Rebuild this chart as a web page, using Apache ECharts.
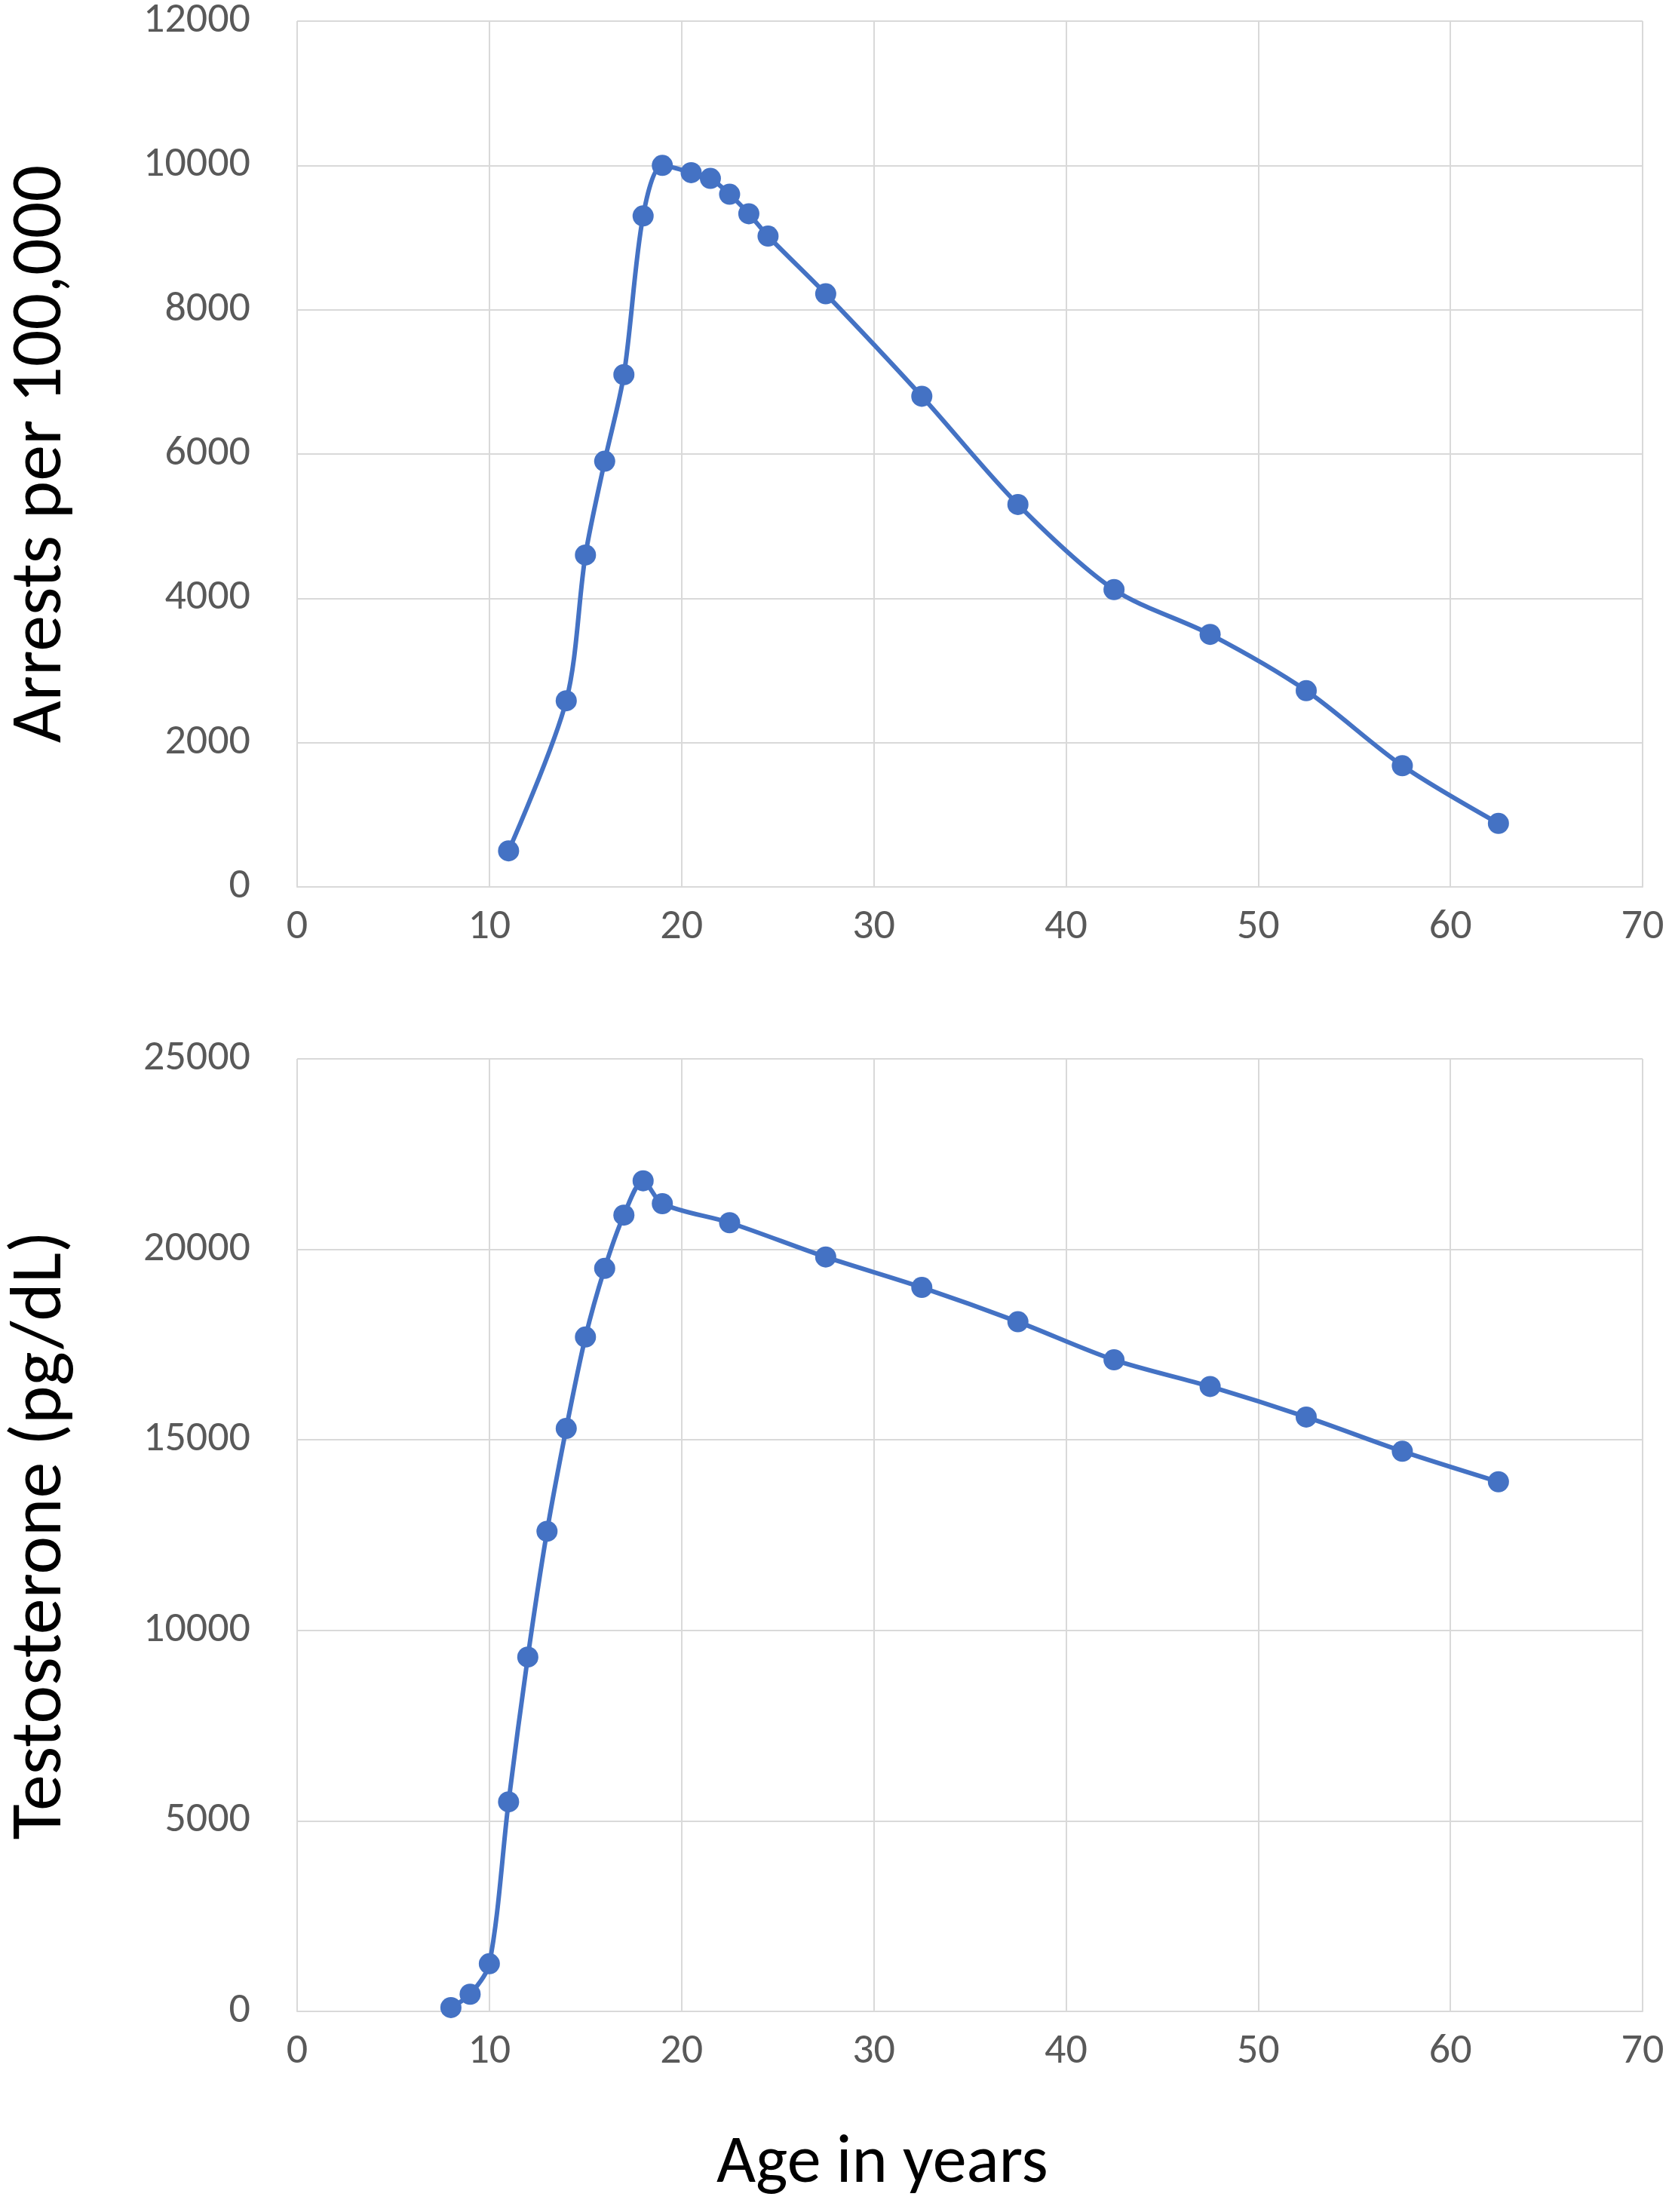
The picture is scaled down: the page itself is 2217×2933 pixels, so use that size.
<!DOCTYPE html>
<html><head><meta charset="utf-8">
<script src="https://cdn.jsdelivr.net/npm/echarts@6/dist/echarts.min.js"></script>
<style>html,body{margin:0;background:#fff}#main{width:2217px;height:2933px}</style>
</head><body><div id="main"></div>
<script>
// top panel: arrests
var arrestAge = [11, 14, 15, 16, 17, 18, 19, 20.5, 21.5, 22.5, 23.5, 24.5, 27.5, 32.5, 37.5, 42.5, 47.5, 52.5, 57.5, 62.5];
var arrestVal = [500, 2580, 4600, 5900, 7100, 9300, 10000, 9900, 9820, 9600, 9330, 9020, 8220, 6800, 5300, 4120, 3500, 2720, 1680, 880];
// bottom panel: testosterone
var testoAge = [8, 9, 10, 11, 12, 13, 14, 15, 16, 17, 18, 19, 22.5, 27.5, 32.5, 37.5, 42.5, 47.5, 52.5, 57.5, 62.5];
var testoVal = [100, 450, 1250, 5500, 9300, 12600, 15300, 17700, 19500, 20900, 21800, 21200, 20700, 19800, 19000, 18100, 17100, 16400, 15600, 14700, 13900];

function pairs(xs, ys) { return xs.map(function (x, i) { return [x, ys[i]]; }); }

var grey = '#d9d9d9', txt = '#595959', blue = '#4472C4';
var font = 'Carlito, Calibri, "Liberation Sans", sans-serif';
function xAx(idx) {
    return {gridIndex: idx, type: 'value', min: 0, max: 70, interval: 10,
        axisLine: {lineStyle: {color: grey, width: 2}}, axisTick: {show: false},
        splitLine: {lineStyle: {color: grey, width: 2}},
        axisLabel: {color: txt, fontSize: 56, fontFamily: font, margin: 26}};
}
function yAx(idx, max, step, name) {
    return {gridIndex: idx, type: 'value', min: 0, max: max, interval: step,
        axisLine: {show: false}, axisTick: {show: false},
        splitLine: {lineStyle: {color: grey, width: 2}},
        axisLabel: {color: txt, fontSize: 56, fontFamily: font, margin: 62,
            formatter: function (v) { return String(v); }},
        name: name, nameLocation: 'middle', nameRotate: 90, nameGap: 290,
        nameTextStyle: {color: '#000', fontSize: 96, fontFamily: font}};
}
function ser(idx, data) {
    return {type: 'line', xAxisIndex: idx, yAxisIndex: idx, data: data, smooth: 0.3,
        symbol: 'circle', symbolSize: 28, itemStyle: {color: blue},
        lineStyle: {color: blue, width: 6}};
}
var chart = echarts.init(document.getElementById('main'));
chart.setOption({
    animation: false,
    grid: [{left: 387, right: 39, top: 28, height: 1148},
           {left: 387, right: 39, top: 1404, height: 1263}],
    xAxis: [xAx(0), xAx(1)],
    yAxis: [yAx(0, 12000, 2000, 'Arrests per 100,000'), yAx(1, 25000, 5000, 'Testosterone (pg/dL)')],
    series: [ser(0, pairs(arrestAge, arrestVal)), ser(1, pairs(testoAge, testoVal))],
    graphic: [{type: 'text', left: 950, top: 2825,
        style: {text: 'Age in years', fill: '#000', fontSize: 90, fontFamily: font}}]
});
</script></body></html>
